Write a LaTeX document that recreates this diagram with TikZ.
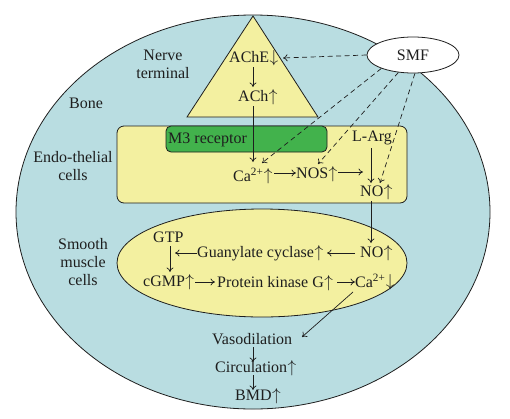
\documentclass[tikz,border=0pt]{standalone}
\usepackage{fontspec}
\setmainfont{Liberation Serif}
\usetikzlibrary{shapes.geometric,arrows.meta}
\definecolor{bonec}{RGB}{185,221,225}
\definecolor{yelc}{RGB}{243,240,160}
\definecolor{grnc}{RGB}{66,178,76}
\definecolor{linec}{RGB}{30,30,30}
\newcommand\myup{\kern0.5pt\raisebox{0.5pt}{$\uparrow$}}
\newcommand\mydn{\kern0.5pt\raisebox{0.5pt}{$\downarrow$}}
\begin{document}
\begin{tikzpicture}[x=1pt,y=-1pt,
  font=\fontsize{16}{18}\selectfont,
  lbl/.style={inner sep=0pt, anchor=west, text=linec},
  side/.style={inner sep=0pt, align=center, text=linec},
  arr/.style={-{To[length=4.5pt,width=7pt]}, draw=linec, line width=0.7pt},
  dsh/.style={-{To[length=4.5pt,width=7pt]}, draw=linec, line width=0.7pt, dash pattern=on 5pt off 3.5pt},
  shp/.style={draw=linec, line width=0.8pt}]
\useasboundingbox (0,0) rectangle (510,418);
\fill[white] (0,0) rectangle (510,418);
% compartments
\draw[shp, fill=bonec] (253,212) ellipse [x radius=237, y radius=197];
\draw[shp, fill=yelc] (253,16) -- (318,117) -- (187,117) -- cycle;
\draw[shp, fill=yelc, rounded corners=7pt] (117,126) rectangle (407,203);
\draw[shp, fill=grnc, rounded corners=5pt] (166,126) rectangle (327,152);
\draw[shp, fill=yelc] (262,263) ellipse [x radius=145, y radius=54];
\node[shp, fill=white, ellipse, minimum width=92pt, minimum height=36pt, inner sep=0pt, text=linec] (smf) at (413,55) {SMF};
% side labels
\node[side] (nerve) at (163,64) {Nerve\\terminal};
\node[side] (bone) at (86,103) {Bone};
\node[side] (endo) at (73,166) {Endo-thelial\\cells};
\node[side] (smooth) at (83,262) {Smooth\\muscle\\cells};
% texts
\node[lbl] (ache) at (229,58) {AChE\mydn};
\node[lbl] (ach) at (238,97) {ACh\myup};
\node[lbl] (m3) at (168,140) {M3 receptor};
\node[lbl] (ca1) at (233,176) {Ca\textsuperscript{2+}\myup};
\node[lbl] (nos) at (296,174) {NOS\myup};
\node[lbl] (larg) at (352,138) {L-Arg};
\node[lbl] (no1) at (360,192) {NO\myup};
\node[lbl] (gtp) at (153,237) {GTP};
\node[lbl] (gc) at (197,253) {Guanylate cyclase\myup};
\node[lbl] (no2) at (360,253) {NO\myup};
\node[lbl] (cgmp) at (143,282) {cGMP\myup};
\node[lbl] (pkg) at (217,283) {Protein kinase G\myup};
\node[lbl] (ca2) at (355,282) {Ca\textsuperscript{2+}\mydn};
\node[lbl] (vaso) at (212,339) {Vasodilation};
\node[lbl] (circ) at (215,368) {Circulation\myup};
\node[lbl] (bmd) at (235,396) {BMD\myup};
% solid arrows
\draw[arr] ([shift={(24,9)}]ache.west) -- ([shift={(15,-10)}]ach.west);
\draw[arr] ([shift={(15,9)}]ach.west) -- ([shift={(20,-14)}]ca1.west);
\draw[arr] ([shift={(41,-3)}]ca1.west) -- ([shift={(0,-1)}]nos.west);
\draw[arr] ([shift={(42,-2)}]nos.west) -- ([shift={(3,-20)}]no1.west);
\draw[arr] ([shift={(19,10)}]larg.west) -- ([shift={(11,-9)}]no1.west);
\draw[arr] ([shift={(11,9)}]no1.west) -- ([shift={(11,-10)}]no2.west);
\draw[arr] ([shift={(-5,0)}]no2.west) -- ([shift={(130,0)}]gc.west);
\draw[arr] (gc.west) -- ([shift={(22,16)}]gtp.west);
\draw[arr] ([shift={(17,9)}]gtp.west) -- ([shift={(27,-10)}]cgmp.west);
\draw[arr] ([shift={(52,0)}]cgmp.west) -- ([shift={(-2,-1)}]pkg.west);
\draw[arr] ([shift={(120,-1)}]pkg.west) -- (ca2.west);
\draw[arr] ([shift={(-2,10)}]ca2.west) -- ([shift={(90,-2)}]vaso.west);
\draw[arr] ([shift={(41,8)}]vaso.west) -- ([shift={(38,-6)}]circ.west);
\draw[arr] ([shift={(38,7)}]circ.west) -- ([shift={(18,-6)}]bmd.west);
% dashed arrows from SMF
\draw[dsh] (smf.west) -- ([shift={(54,0)}]ache.west);
\draw[dsh] (smf.-157) -- ([shift={(29,-13)}]ca1.west);
\draw[dsh] (smf.-130) -- ([shift={(22,-10)}]nos.west);
\draw[dsh] (smf.-84) -- ([shift={(20,-9)}]no1.west);
\end{tikzpicture}
\end{document}
